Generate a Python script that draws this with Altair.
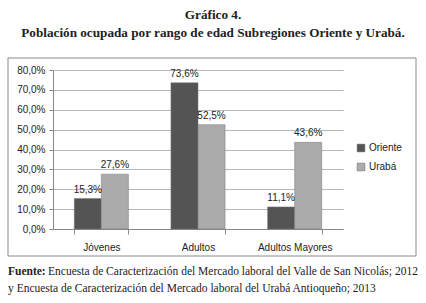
import altair as alt
import pandas as pd

categories = ["Jóvenes", "Adultos", "Adultos Mayores"]
series = ["Oriente", "Urabá"]
oriente = [15.3, 73.6, 11.1]
uraba = [27.6, 52.5, 43.6]
y_ticks = [0.0, 0.1, 0.2, 0.3, 0.4, 0.5, 0.6, 0.7, 0.8]
title_lines = ["Gráfico 4.", "Población ocupada por rango de edad Subregiones Oriente y Urabá."]
source_bold = "Fuente:"
source_line1 = "Encuesta de Caracterización del Mercado laboral del Valle de San Nicolás; 2012"
source_line2 = "y Encuesta de Caracterización del Mercado laboral del Urabá Antioqueño; 2013"

rows = []
for s, vals in zip(series, [oriente, uraba]):
    for c, v in zip(categories, vals):
        rows.append({"cat": c, "serie": s, "val": v / 100,
                     "label": f"{v:.1f}%".replace(".", ",")})
df = pd.DataFrame(rows)

SANS = "Liberation Sans"
SERIF = "Liberation Serif"

xenc = alt.X("cat:N", sort=categories, title=None,
             scale=alt.Scale(paddingInner=0.44, paddingOuter=0.22),
             axis=alt.Axis(labelAngle=0, labelFont=SANS, labelFontSize=10, labelColor="#222",
                           labelPadding=8, domainColor="#888", tickColor="#888",
                           tickBand="extent", tickSize=5))
yenc = alt.Y("val:Q", title=None,
             scale=alt.Scale(domain=[0, 0.8]),
             axis=alt.Axis(values=y_ticks, labelOverlap=False,
                           labelExpr="replace(format(datum.value, '.1%'), '.', ',')",
                           labelFont=SANS, labelFontSize=10, labelColor="#222",
                           labelPadding=4, tickSize=4, tickColor="#888", domainColor="#888",
                           gridColor="#b8b8b8"))
xoff = alt.XOffset("serie:N", sort=series)

base = alt.Chart(df)

bars = base.mark_bar(stroke="#777", strokeWidth=0.5).encode(
    x=xenc, y=yenc, xOffset=xoff,
    color=alt.Color("serie:N", sort=series, title=None,
                    scale=alt.Scale(domain=series, range=["#545454", "#ababab"]),
                    legend=alt.Legend(orient="none", legendX=303, legendY=73,
                                      symbolType="square", symbolSize=60,
                                      symbolStrokeColor="#666", symbolStrokeWidth=0.5,
                                      labelFont=SANS, labelFontSize=10, labelColor="#222",
                                      rowPadding=9, labelOffset=3)),
)

labels = base.mark_text(baseline="bottom", dy=-4, font=SANS, fontSize=10, color="#222").encode(
    x=xenc, y=yenc, xOffset=xoff, text="label:N")

frame = alt.Chart(pd.DataFrame({"k": [0]})).mark_rect(fill=None, stroke="#8a8a8a", strokeWidth=1).encode(
    x=alt.value(-45), x2=alt.value(363), y=alt.value(-12), y2=alt.value(186))

t1 = alt.Chart(pd.DataFrame({"t": [title_lines[0]]})).mark_text(
    font=SERIF, fontSize=13.2, fontWeight="bold", color="#222", align="center", baseline="middle"
).encode(x=alt.value(160), y=alt.value(-55), text="t:N")
t2 = alt.Chart(pd.DataFrame({"t": [title_lines[1]]})).mark_text(
    font=SERIF, fontSize=13.2, fontWeight="bold", color="#222", align="center", baseline="middle"
).encode(x=alt.value(160), y=alt.value(-37), text="t:N")

f0 = alt.Chart(pd.DataFrame({"t": [source_bold]})).mark_text(
    font=SERIF, fontSize=11.5, fontWeight="bold", color="#222", align="left", baseline="middle"
).encode(x=alt.value(-45), y=alt.value(202), text="t:N")
f1 = alt.Chart(pd.DataFrame({"t": [source_line1]})).mark_text(
    font=SERIF, fontSize=11.5, color="#222", align="left", baseline="middle"
).encode(x=alt.value(-5), y=alt.value(202), text="t:N")
f2 = alt.Chart(pd.DataFrame({"t": [source_line2]})).mark_text(
    font=SERIF, fontSize=11.5, color="#222", align="left", baseline="middle"
).encode(x=alt.value(-45), y=alt.value(219), text="t:N")

chart = alt.layer(frame, bars, labels, t1, t2, f0, f1, f2).properties(
    width=290, height=159,
    autosize=alt.AutoSizeParams(type="none"),
    padding={"left": 53, "top": 70, "right": 83, "bottom": 74},
    background="white",
).configure_view(stroke=None)

chart.save("out.html", embed_options={"renderer": "svg", "actions": False})
